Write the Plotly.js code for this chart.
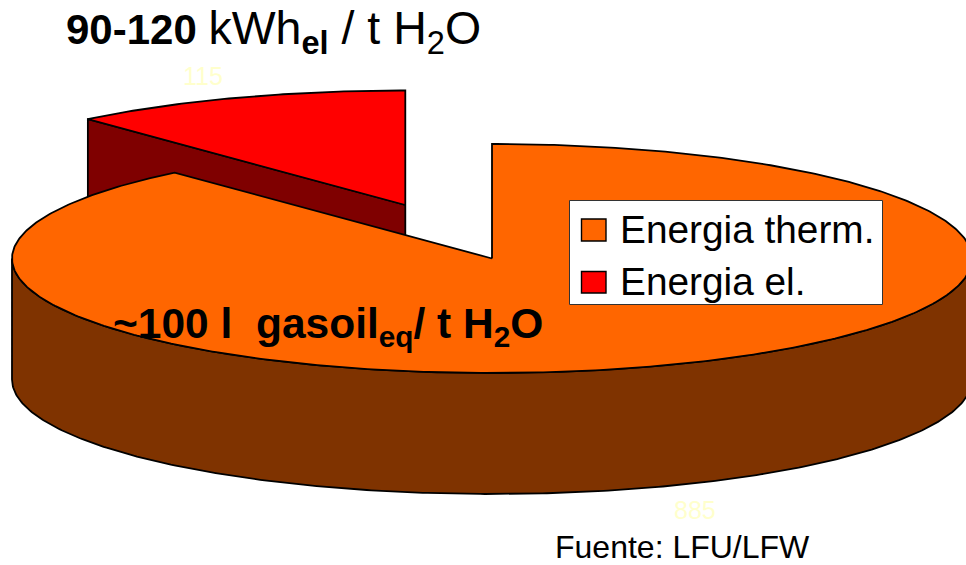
<!DOCTYPE html>
<html>
<head>
<meta charset="utf-8">
<script src="https://cdn.plot.ly/plotly-3.0.1.min.js"></script>
<style>html,body{margin:0;padding:0;background:#fff}#chart{width:966px;height:565px}</style>
</head>
<body>
<div id="chart"></div>
<script>
var categories = ["Energia therm.", "Energia el."];
var values = [885, 115];
var topColors = ["#FF6600", "#FF0000"];
var sideColors = ["#7F3300", "#7F0000"];
var labelColor = "#FFFFCC";

// projected pie geometry, in plot units (1 unit = 1 px)
var centre = {x: 492, y: 258.5};
var radiusX = 480, radiusY = 114.5, depth = 121;
var explode = {x: -86.7, y: -53.5};

var total = values[0] + values[1];
var mainSweep = 2 * Math.PI * values[0] / total;

function pt(a, c, dy) {
  return [c.x + radiusX * Math.sin(a), c.y - radiusY * Math.cos(a) + (dy || 0)];
}
function arc(a0, a1, c, dy) {
  var n = Math.max(2, Math.ceil(Math.abs(a1 - a0) / 0.01)), out = [];
  for (var i = 0; i <= n; i++) out.push(pt(a0 + (a1 - a0) * i / n, c, dy));
  return out;
}
function trace(points, fill, name) {
  return {
    type: "scatter", mode: "lines", name: name,
    x: points.map(function (p) { return p[0]; }),
    y: points.map(function (p) { return p[1]; }),
    fill: "toself", fillcolor: fill,
    line: {color: "#000", width: 1.8},
    hoverinfo: "name", showlegend: false
  };
}

var redC = {x: centre.x + explode.x, y: centre.y + explode.y};
var redStart = pt(mainSweep, redC);

// electric slice: exposed cut face, then its top
var redSide = [[redC.x, redC.y], redStart, [redStart[0], redStart[1] + depth], [redC.x, redC.y + depth], [redC.x, redC.y]];
var redTop = [[redC.x, redC.y]].concat(arc(mainSweep, 2 * Math.PI, redC)).concat([[redC.x, redC.y]]);

// thermal slice: outer wall, then its top
var wall = arc(Math.PI / 2, 3 * Math.PI / 2, centre).concat(arc(3 * Math.PI / 2, Math.PI / 2, centre, depth));
wall.push(wall[0]);
var mainTop = [[centre.x, centre.y]].concat(arc(0, mainSweep, centre)).concat([[centre.x, centre.y]]);

var data = [
  trace(redSide, sideColors[1], categories[1]),
  trace(redTop, topColors[1], categories[1]),
  trace(wall, sideColors[0], categories[0]),
  trace(mainTop, topColors[0], categories[0])
];

function note(text, x, y, size, color, anchor) {
  return {
    text: text, x: x, y: y, xref: "x", yref: "y", showarrow: false,
    xanchor: anchor || "left", yanchor: "middle",
    font: {family: "Liberation Sans, Arial, sans-serif", size: size, color: color || "#000"}
  };
}

var legendBox = {type: "rect", xref: "x", yref: "y", x0: 569.5, x1: 882.5, y0: 200.5, y1: 304.5,
  fillcolor: "#fff", line: {color: "#333", width: 1}, layer: "above"};
function swatch(y0, y1, color) {
  return {type: "rect", xref: "x", yref: "y", x0: 581.5, x1: 606, y0: y0, y1: y1,
    fillcolor: color, line: {color: "#000", width: 1.4}, layer: "above"};
}

var layout = {
  width: 966, height: 565,
  margin: {l: 0, r: 0, t: 0, b: 0},
  paper_bgcolor: "#fff", plot_bgcolor: "#fff",
  showlegend: false,
  xaxis: {range: [0, 966], visible: false, fixedrange: true},
  yaxis: {range: [565, 0], visible: false, fixedrange: true},
  shapes: [legendBox, swatch(219, 241, topColors[0]), swatch(271.5, 293, topColors[1])],
  annotations: [
    note("<b>90-120</b> <span style=\"font-size:46.5px\">kWh<sub><b>el</b></sub> / t H<sub>2</sub>O</span>", 64, 31, 42),
    note("<b>~100 l  gasoil<sub>eq</sub>/ t H<sub>2</sub>O</b>", 111, 326, 42.5),
    note(String(values[1]), 203, 76, 25, labelColor, "center"),
    note(String(values[0]), 695, 510, 25, labelColor, "center"),
    note(categories[0], 618, 229, 38.8),
    note(categories[1], 618, 281, 38.8),
    note("Fuente: LFU/LFW", 553, 547, 32)
  ]
};

Plotly.newPlot("chart", data, layout, {displayModeBar: false, staticPlot: true});
</script>
</body>
</html>
